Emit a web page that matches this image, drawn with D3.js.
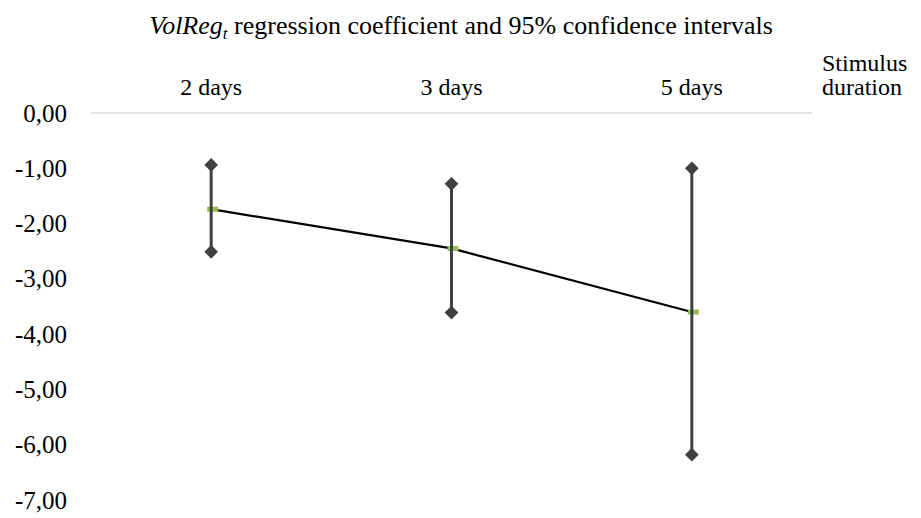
<!DOCTYPE html>
<html>
<head>
<meta charset="utf-8">
<script src="https://cdn.jsdelivr.net/npm/d3@7"></script>
<style>
	body { margin: 0; background: #fff; }
</style>
</head>
<body>
<svg id="chart" width="921" height="518"></svg>
<script>
var categories = ['2 days', '3 days', '5 days'];
var coef = [-1.74, -2.45, -3.60];
var upper = [-0.94, -1.28, -1.00];
var lower = [-2.51, -3.61, -6.18];
var y_ticks = [0, -1, -2, -3, -4, -5, -6, -7];

var serif = "'Liberation Serif', 'Times New Roman', serif";
var svg = d3.select('#chart');

var x = d3.scaleBand().domain(categories).range([91, 812]);
var y = d3.scaleLinear().domain([0, -7]).range([113, 500]);

function fmt(v) {
	return d3.format('.2f')(v).replace('.', ',').replace('−', '-');
}

function cx(i) { return x(categories[i]) + x.bandwidth() / 2; }

// title, with the italic VolReg and subscript t
var title = svg.append('text')
	.attr('x', 461)
	.attr('y', 34)
	.attr('text-anchor', 'middle')
	.attr('font-family', serif)
	.attr('font-size', 26);
title.append('tspan').attr('font-style', 'italic').text('VolReg');
title.append('tspan').attr('font-style', 'italic').attr('font-size', 17).attr('dy', 5).text('t');
title.append('tspan').attr('dy', -5).text(' regression coefficient and 95% confidence intervals');

// gridline at zero
svg.append('line')
	.attr('x1', 91).attr('x2', 812)
	.attr('y1', y(0)).attr('y2', y(0))
	.attr('stroke', '#d9d9d9')
	.attr('stroke-width', 1.5);

// y axis labels
var y_axis = d3.axisLeft(y).tickValues(y_ticks).tickFormat(fmt).tickSize(0).tickPadding(0);
var gy = svg.append('g').attr('transform', 'translate(67,0)').call(y_axis);
gy.attr('font-family', serif).attr('font-size', 25);
gy.select('.domain').remove();

// category labels along the top
var x_axis = d3.axisTop(x).tickSize(0).tickPadding(0);
var gx = svg.append('g').attr('transform', 'translate(0,95)').call(x_axis);
gx.attr('font-family', serif).attr('font-size', 24);
gx.select('.domain').remove();

var axis_title = svg.append('text').attr('x', 822).attr('y', 71)
	.attr('font-family', serif).attr('font-size', 24);
axis_title.append('tspan').attr('x', 822).text('Stimulus');
axis_title.append('tspan').attr('x', 822).attr('dy', 23.5).text('duration');

// line through the coefficients
var line = d3.line()
	.x(function(d, i) { return cx(i); })
	.y(function(d) { return y(d); });

svg.append('path')
	.datum(coef)
	.attr('d', line)
	.attr('fill', 'none')
	.attr('stroke', '#000')
	.attr('stroke-width', 2.25);

// green dash markers
svg.selectAll('.marker')
	.data(coef)
	.enter().append('rect')
	.attr('class', 'marker')
	.attr('x', function(d, i) { return cx(i) - 4; })
	.attr('y', function(d) { return y(d) - 2.5; })
	.attr('width', 11)
	.attr('height', 5)
	.attr('fill', '#9bbb59');

// confidence interval bars
svg.selectAll('.ci')
	.data(categories)
	.enter().append('line')
	.attr('class', 'ci')
	.attr('x1', function(d, i) { return cx(i); })
	.attr('x2', function(d, i) { return cx(i); })
	.attr('y1', function(d, i) { return y(upper[i]); })
	.attr('y2', function(d, i) { return y(lower[i]); })
	.attr('stroke', '#404040')
	.attr('stroke-width', 3);

var diamond = d3.symbol().type(d3.symbolDiamond2).size(120);
var ends = [];
categories.forEach(function(c, i) {
	ends.push({ i: i, v: upper[i] });
	ends.push({ i: i, v: lower[i] });
});

svg.selectAll('.end')
	.data(ends)
	.enter().append('path')
	.attr('class', 'end')
	.attr('d', diamond)
	.attr('transform', function(d) { return 'translate(' + cx(d.i) + ',' + y(d.v) + ')'; })
	.attr('fill', '#404040');
</script>
</body>
</html>
